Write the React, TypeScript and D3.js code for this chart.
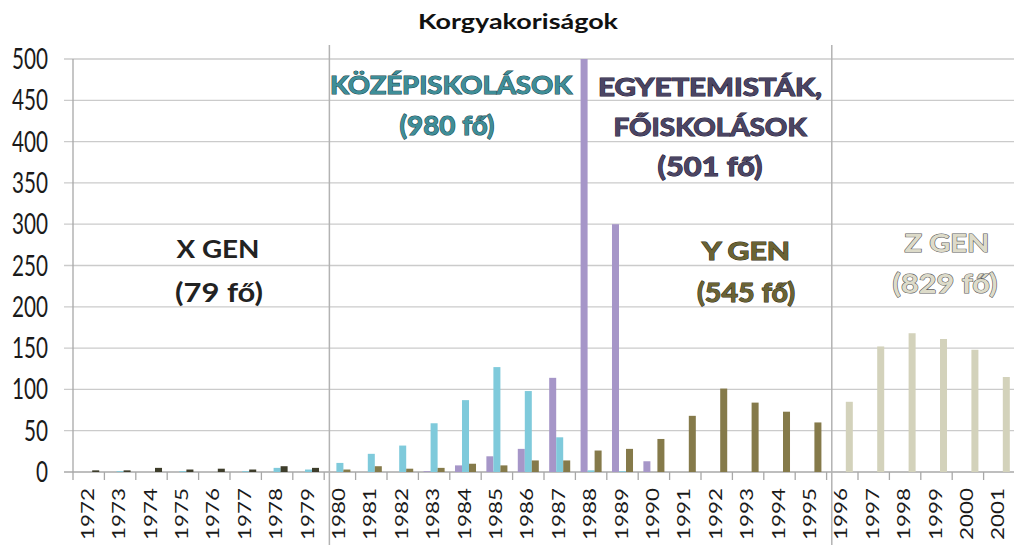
import React, { useEffect, useRef } from "react";
import * as d3 from "d3";

// categories (tick labels)
const years = [
  "1972", "1973", "1974", "1975", "1976", "1977", "1978", "1979",
  "1980", "1981", "1982", "1983", "1984", "1985", "1986", "1987",
  "1988", "1989", "1990", "1991", "1992", "1993", "1994", "1995",
  "1996", "1997", "1998", "1999", "2000", "2001",
];

// egyetemisták, főiskolások (purple)
const egyetemistak = [
  0, 0, 0, 0, 0, 0, 0, 0,
  0, 0, 0, 1, 8, 19, 28, 114,
  500, 300, 13, 0, 0, 0, 0, 0,
  0, 0, 0, 0, 0, 0,
];

// középiskolások (light blue)
const kozepiskolasok = [
  0, 1, 0, 1, 0, 1, 5, 3,
  11, 22, 32, 59, 87, 127, 98, 42,
  2, 1, 0, 0, 0, 0, 0, 0,
  0, 0, 0, 0, 0, 0,
];

// generációk (X / Y / Z)
const generaciok = [
  2, 2, 5, 3, 4, 3, 7, 5,
  3, 7, 4, 5, 10, 8, 14, 14,
  26, 28, 40, 68, 101, 84, 73, 60,
  85, 152, 168, 161, 148, 115,
];

const genStart = ["1972", "1980", "1996"];
const genColors = ["#3e3d2b", "#857a4a", "#d3d2bb"];
const yTicks = [0, 50, 100, 150, 200, 250, 300, 350, 400, 450, 500];

const FONT = "Lato, 'Open Sans', sans-serif";

export default function App() {
  const ref = useRef<SVGSVGElement | null>(null);
  const width = 1014;
  const height = 545;

  useEffect(() => {
    const svg = d3.select(ref.current);
    svg.selectAll("*").remove();

    const left = 73;
    const step = 31.4;
    const x = d3
      .scaleBand<string>()
      .domain(years)
      .range([left, left + years.length * step]);
    const sub = d3
      .scaleBand<string>()
      .domain(["egy", "koz", "gen"])
      .range([0, x.bandwidth()])
      .paddingOuter(0.74);
    const y = d3.scaleLinear().domain([0, 500]).range([472, 59]);

    // gridlines (with the small left ticks)
    svg
      .append("g")
      .selectAll("line")
      .data(yTicks)
      .join("line")
      .attr("x1", left - 9)
      .attr("x2", width)
      .attr("y1", (d) => y(d))
      .attr("y2", (d) => y(d))
      .attr("stroke", (d) => (d === 0 ? "#a8a8a8" : "#cbcbcb"))
      .attr("stroke-width", 1.3);

    // y labels
    svg
      .append("g")
      .selectAll("text")
      .data(yTicks)
      .join("text")
      .attr("x", 48)
      .attr("y", (d) => y(d))
      .attr("dy", "0.36em")
      .attr("text-anchor", "end")
      .attr("font-family", FONT)
      .attr("font-size", 28)
      .attr("fill", "#1a1a1a")
      .attr("textLength", (d) => String(d).length * 12)
      .attr("lengthAdjust", "spacingAndGlyphs")
      .text((d) => d);

    // y axis line
    svg
      .append("line")
      .attr("x1", left)
      .attr("x2", left)
      .attr("y1", y(500))
      .attr("y2", y(0))
      .attr("stroke", "#a8a8a8")
      .attr("stroke-width", 1.3);

    // category boundary ticks
    const bounds = years.map((d) => x(d) as number).concat([x.range()[1]]);
    svg
      .append("g")
      .selectAll("line")
      .data(bounds)
      .join("line")
      .attr("x1", (d) => d)
      .attr("x2", (d) => d)
      .attr("y1", y(0))
      .attr("y2", y(0) + 8)
      .attr("stroke", "#a8a8a8")
      .attr("stroke-width", 1.3);

    // x labels
    svg
      .append("g")
      .selectAll("text")
      .data(years)
      .join("text")
      .attr(
        "transform",
        (d) => `translate(${(x(d) as number) + x.bandwidth() / 2 - 1},488) rotate(-90)`
      )
      .attr("dy", "0.36em")
      .attr("text-anchor", "end")
      .attr("font-family", FONT)
      .attr("font-size", 17)
      .attr("fill", "#1a1a1a")
      .attr("textLength", 52)
      .attr("lengthAdjust", "spacingAndGlyphs")
      .text((d) => d);

    // bars
    const genColor = (yr: string) => {
      let idx = 0;
      genStart.forEach((s, i) => {
        if (+yr >= +s) idx = i;
      });
      return genColors[idx];
    };
    const series = [
      { key: "egy", values: egyetemistak, color: () => "#a696c8" },
      { key: "koz", values: kozepiskolasok, color: () => "#7fcadb" },
      { key: "gen", values: generaciok, color: genColor },
    ];
    series.forEach((s) => {
      svg
        .append("g")
        .selectAll("rect")
        .data(years.map((yr, i) => ({ yr, v: s.values[i] })))
        .join("rect")
        .attr("x", (d) => (x(d.yr) as number) + (sub(s.key) as number))
        .attr("width", sub.bandwidth())
        .attr("y", (d) => y(d.v))
        .attr("height", (d) => y(0) - y(d.v))
        .attr("fill", (d) => s.color(d.yr));
    });

    // generation separators
    svg
      .append("g")
      .selectAll("line")
      .data(genStart.slice(1))
      .join("line")
      .attr("x1", (d) => (x(d) as number) + (sub("egy") as number))
      .attr("x2", (d) => (x(d) as number) + (sub("egy") as number))
      .attr("y1", 45)
      .attr("y2", height)
      .attr("stroke", "#b3b3b3")
      .attr("stroke-width", 1.5);

    // title
    svg
      .append("text")
      .attr("x", 518)
      .attr("y", 29)
      .attr("text-anchor", "middle")
      .attr("font-family", FONT)
      .attr("font-weight", "bold")
      .attr("font-size", 21)
      .attr("fill", "#111")
      .attr("textLength", 200)
      .attr("lengthAdjust", "spacingAndGlyphs")
      .text("Korgyakoriságok");

    // annotations
    const notes = [
      { t: "KÖZÉPISKOLÁSOK", x: 451, y: 94, fs: 25, len: 242, fill: "#3f8e98", stroke: "#1a4a50" },
      { t: "(980 fő)", x: 447, y: 135, fs: 27, len: 95, fill: "#3f8e98", stroke: "#1a4a50" },
      { t: "EGYETEMISTÁK,", x: 710, y: 96, fs: 25, len: 224, fill: "#4b4563", stroke: "#25203a" },
      { t: "FŐISKOLÁSOK", x: 710, y: 136, fs: 25, len: 193, fill: "#4b4563", stroke: "#25203a" },
      { t: "(501 fő)", x: 710, y: 176, fs: 27, len: 105, fill: "#4b4563", stroke: "#25203a" },
      { t: "X GEN", x: 218, y: 258, fs: 25, len: 83, fill: "#222", stroke: "none" },
      { t: "(79 fő)", x: 219, y: 302, fs: 27, len: 88, fill: "#222", stroke: "none" },
      { t: "Y GEN", x: 746, y: 260, fs: 25, len: 88, fill: "#6a6335", stroke: "#353015" },
      { t: "(545 fő)", x: 746, y: 302, fs: 27, len: 98, fill: "#6a6335", stroke: "#353015" },
      { t: "Z GEN", x: 947, y: 252, fs: 25, len: 85, fill: "#dddbc9", stroke: "#5c5c5c" },
      { t: "(829 fő)", x: 945, y: 293, fs: 27, len: 105, fill: "#dddbc9", stroke: "#5c5c5c" },
    ];
    svg
      .append("g")
      .selectAll("text")
      .data(notes)
      .join("text")
      .attr("x", (d) => d.x)
      .attr("y", (d) => d.y)
      .attr("text-anchor", "middle")
      .attr("font-family", FONT)
      .attr("font-weight", "bold")
      .attr("font-size", (d) => d.fs)
      .attr("fill", (d) => d.fill)
      .attr("stroke", (d) => d.stroke)
      .attr("stroke-width", 1.1)
      .attr("paint-order", "stroke")
      .attr("textLength", (d) => d.len)
      .attr("lengthAdjust", "spacingAndGlyphs")
      .text((d) => d.t);
  });

  return (
    <svg
      ref={ref}
      width={width}
      height={height}
      style={{ position: "absolute", left: 0, top: 0, background: "#fff" }}
    />
  );
}
